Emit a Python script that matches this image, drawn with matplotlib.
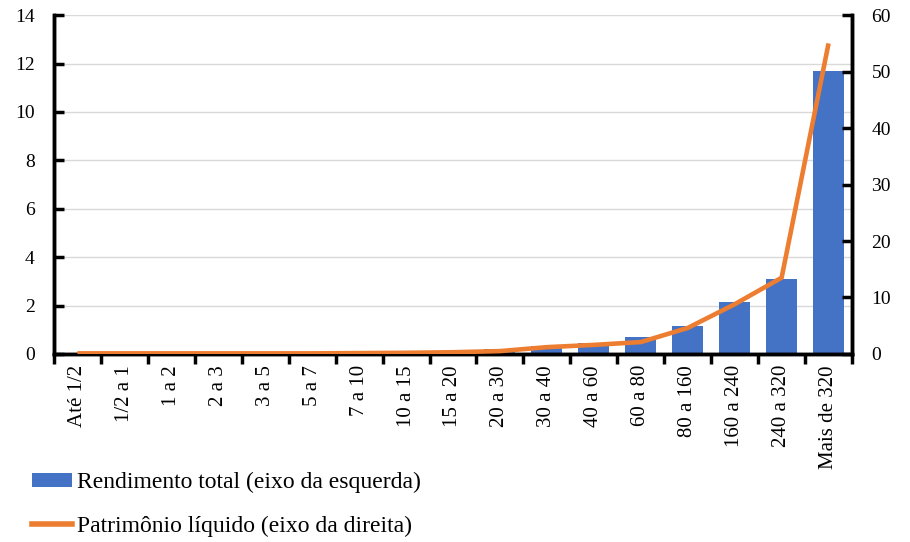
import matplotlib
matplotlib.use("Agg")
import matplotlib.pyplot as plt
from matplotlib.patches import Patch
from matplotlib.lines import Line2D
import numpy as np

plt.rcParams['font.family'] = ['Liberation Serif', 'DejaVu Serif']

categories = ["Até 1/2", "1/2 a 1", "1 a 2", "2 a 3", "3 a 5", "5 a 7", "7 a 10",
              "10 a 15", "15 a 20", "20 a 30", "30 a 40", "40 a 60", "60 a 80",
              "80 a 160", "160 a 240", "240 a 320", "Mais de 320"]
rendimento = [0.01, 0.01, 0.01, 0.02, 0.02, 0.02, 0.03, 0.07, 0.13, 0.2, 0.33,
              0.45, 0.7, 1.16, 2.15, 3.1, 11.7]
patrimonio = [0.1, 0.1, 0.1, 0.1, 0.1, 0.1, 0.15, 0.2, 0.3, 0.5, 1.2, 1.6,
              2.1, 4.6, 8.8, 13.5, 55.0]
left_ticks = [0, 2, 4, 6, 8, 10, 12, 14]
right_ticks = [0, 10, 20, 30, 40, 50, 60]

blue = "#4472C4"
orange = "#ED7D31"

fig = plt.figure(figsize=(9.1, 5.42), dpi=100)
ax = fig.add_axes([0.0593, 0.347, 0.877, 0.625])
ax2 = ax.twinx()

x = np.arange(len(categories))
ax.bar(x, rendimento, width=0.66, color=blue, zorder=2)
ax2.plot(x, patrimonio, color=orange, lw=3.3, solid_capstyle='butt', zorder=3)

ax.set_xlim(-0.5, len(categories) - 0.5)
ax.set_ylim(0, 14)
ax2.set_ylim(0, 60)
ax.set_yticks(left_ticks)
ax2.set_yticks(right_ticks)
ax.yaxis.grid(True, color="#D9D9D9", lw=1)
ax.set_axisbelow(True)

ax.set_xticks(x)
ax.set_xticklabels(categories, rotation=90, fontsize=15)
ax.tick_params(axis='x', length=0, pad=8)
ax.set_xticks(np.arange(-0.5, len(categories), 1.0), minor=True)
ax.tick_params(axis='x', which='minor', length=7, width=2.5, direction='out')
ax.tick_params(axis='y', direction='in', length=7, width=2.5, labelsize=14, pad=14)
ax2.tick_params(axis='y', direction='in', length=7, width=2.5, labelsize=14, pad=14)

for a in (ax, ax2):
    a.spines['top'].set_visible(False)
    for s in ('left', 'right', 'bottom'):
        a.spines[s].set_linewidth(2.5)
        a.spines[s].set_color('black')

handles = [Patch(facecolor=blue, edgecolor='none'),
           Line2D([0], [0], color=orange, lw=4)]
labels = ["Rendimento total (eixo da esquerda)", "Patrimônio líquido (eixo da direita)"]
fig.legend(handles, labels, loc='upper left', bbox_to_anchor=(32 / 910, 1 - 472 / 542),
           frameon=False, fontsize=17, handlelength=1.7, handleheight=0.55,
           handletextpad=0.2, labelspacing=0.95, borderpad=0, borderaxespad=0)

fig.savefig("out.png", dpi=100)
